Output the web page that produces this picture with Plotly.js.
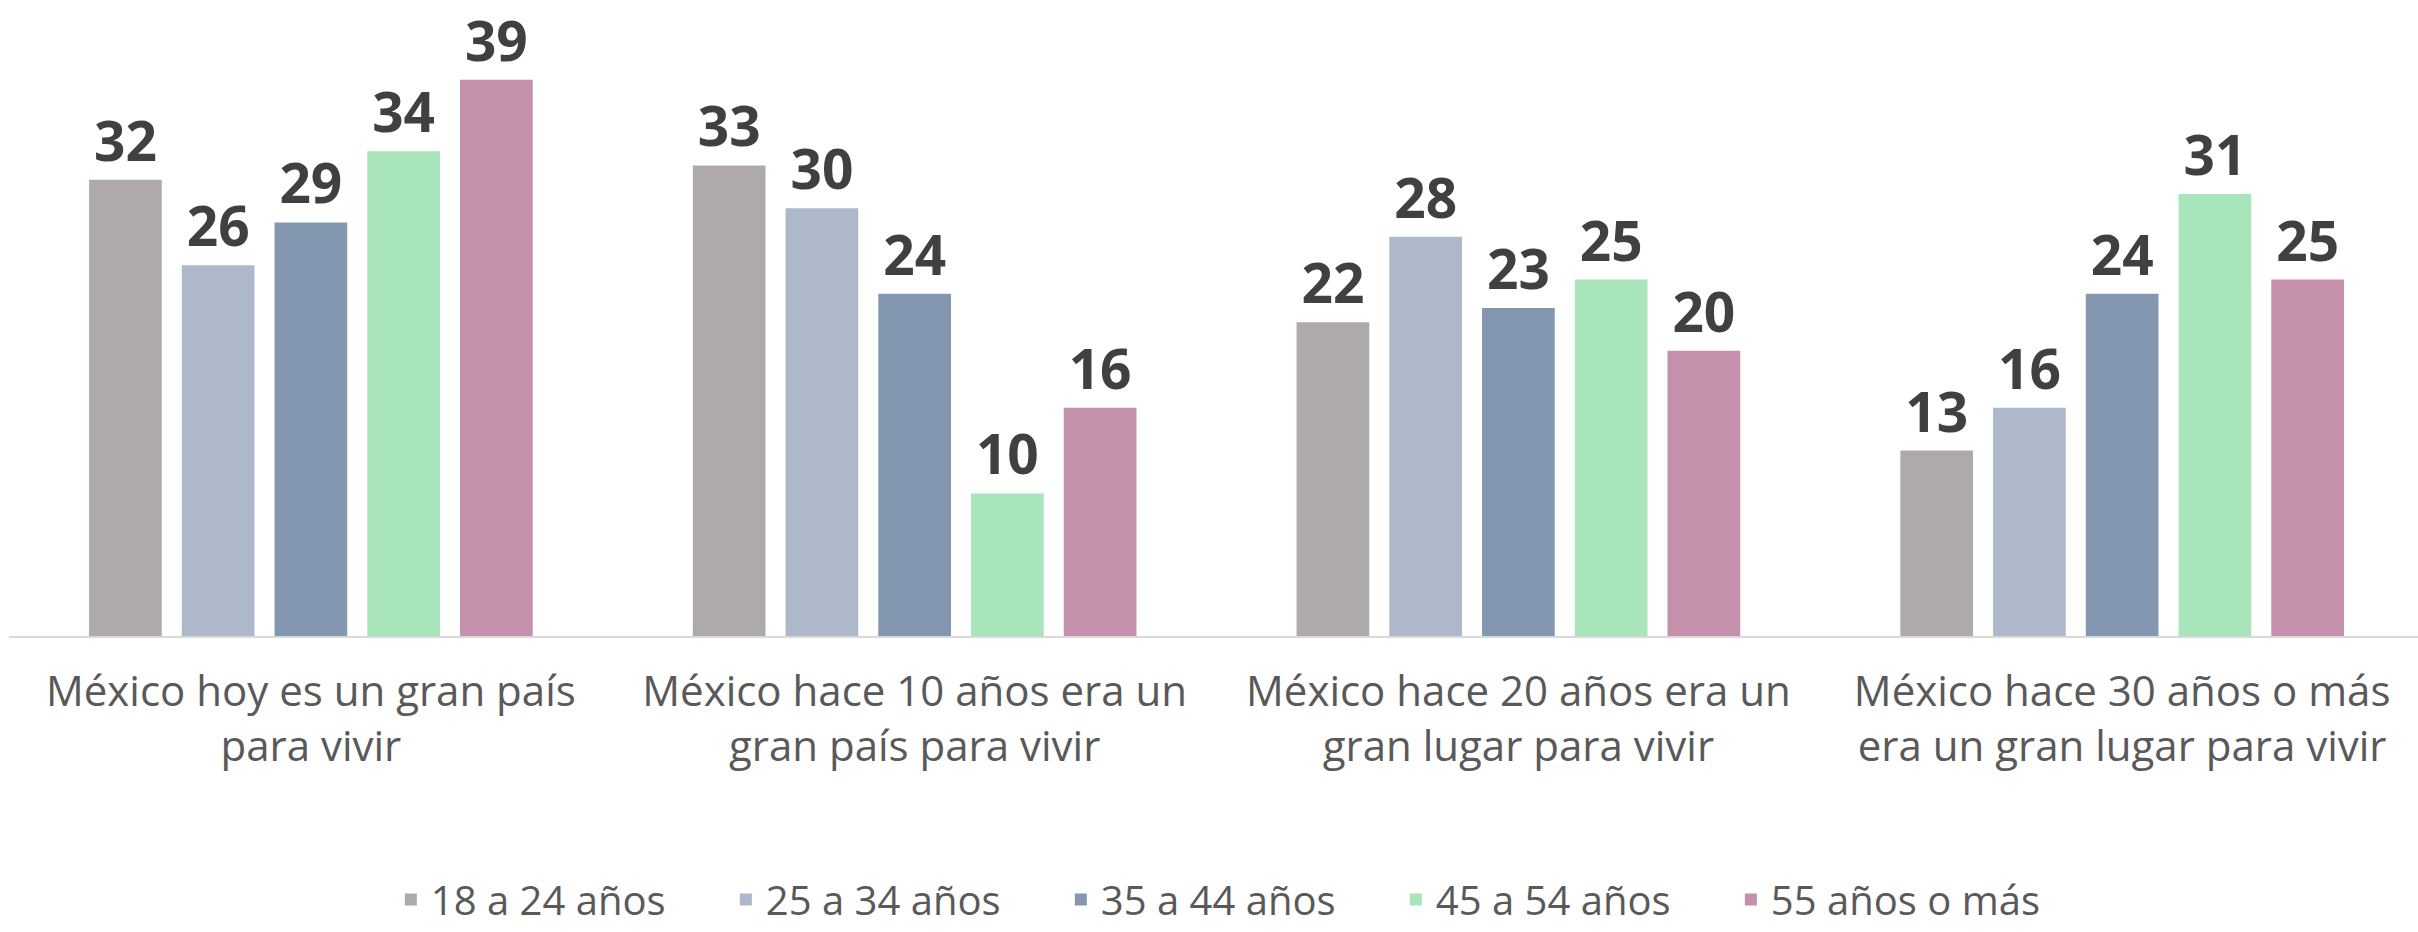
<!DOCTYPE html>
<html>
<head>
<meta charset="utf-8">
<script src="https://cdn.plot.ly/plotly-3.0.1.min.js"></script>
<style>html,body{margin:0;padding:0;background:#fff;overflow:hidden;}#chart{width:2418px;height:932px;}</style>
</head>
<body>
<div id="chart"></div>
<script>
const categories = [
  "México hoy es un gran país<br>para vivir",
  "México hace 10 años era un<br>gran país para vivir",
  "México hace 20 años era un<br>gran lugar para vivir",
  "México hace 30 años o más<br>era un gran lugar para vivir"
];
const seriesNames = ["18 a 24 años", "25 a 34 años", "35 a 44 años", "45 a 54 años", "55 años o más"];
const s18_24 = [32, 33, 22, 13];
const s25_34 = [26, 30, 28, 16];
const s35_44 = [29, 24, 23, 24];
const s45_54 = [34, 10, 25, 31];
const s55plus = [39, 16, 20, 25];
const seriesValues = [s18_24, s25_34, s35_44, s45_54, s55plus];
const colors = ["#AEAAAA", "#ADB9CA", "#8497B0", "#A9E5BA", "#C590AC"];

const traces = seriesNames.map((name, i) => ({
  type: "bar",
  name: name,
  x: categories,
  y: seriesValues[i],
  marker: {color: colors[i]},
  texttemplate: "%{y}",
  textposition: "outside",
  constraintext: "none",
  cliponaxis: false,
  textfont: {family: "Open Sans", size: 55, color: "#404040", weight: 700},
  hoverinfo: "skip"
}));

const layout = {
  width: 2418,
  height: 932,
  margin: {l: 9, r: 0, t: 10, b: 296},
  paper_bgcolor: "#ffffff",
  plot_bgcolor: "#ffffff",
  barmode: "group",
  bargap: 0.232,
  bargroupgap: 0.216,
  showlegend: true,
  legend: {
    orientation: "h",
    xref: "container",
    x: 0.508,
    xanchor: "center",
    yref: "container",
    y: 0.035,
    yanchor: "middle",
    entrywidth: 290,
    entrywidthmode: "pixels",
    font: {family: "Open Sans", size: 40, color: "#595959"},
    traceorder: "normal"
  },
  xaxis: {
    type: "category",
    range: [-0.5, 3.49],
    showline: true,
    linecolor: "#D9D9D9",
    linewidth: 2,
    ticks: "",
    showgrid: false,
    zeroline: false,
    tickfont: {family: "Open Sans", size: 42, color: "#595959"},
    ticklabelstandoff: 18
  },
  yaxis: {
    range: [0, 43.9],
    visible: false,
    showgrid: false,
    zeroline: false
  }
};

Plotly.newPlot("chart", traces, layout, {displayModeBar: false, staticPlot: true});
</script>
</body>
</html>
